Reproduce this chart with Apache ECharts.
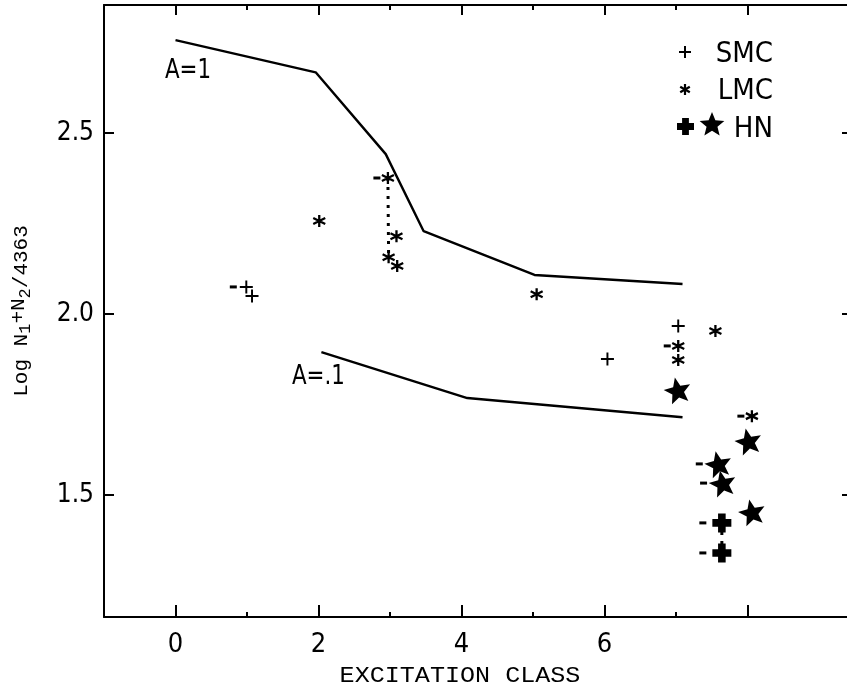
<!DOCTYPE html>
<html><head><meta charset="utf-8">
<script src="https://cdn.jsdelivr.net/npm/echarts@6/dist/echarts.min.js"></script>
<style>html,body{margin:0;padding:0;background:#fff}#c{width:847px;height:686px}</style>
</head><body><div id="c"></div>
<script>
// ---- data ----
const xMajorTicks = [0, 2, 4, 6, 8];
const xMinorTicks = [1, 3, 5, 7];
const xTickLabels = [0, 2, 4, 6];
const yTicks = [1.5, 2.0, 2.5];
const lineA1 = [[0, 2.757], [1.96, 2.668], [2.94, 2.442], [3.47, 2.229], [5.02, 2.108], [7.09, 2.083]];
const lineA01 = [[2.04, 1.895], [4.08, 1.768], [7.09, 1.715]];
// [x, y, limitFlag]
const smc = [[0.99, 2.075, 1], [1.07, 2.05, 0], [6.04, 1.876, 0], [7.03, 1.967, 0]];
const lmc = [[2.01, 2.257, 0], [2.97, 2.376, 1], [3.09, 2.215, 0], [2.98, 2.157, 0], [3.10, 2.133, 0],
             [5.05, 2.055, 0], [7.03, 1.912, 1], [7.03, 1.873, 0], [7.55, 1.953, 0], [8.06, 1.718, 1]];
const hnStar = [[7.02, 1.79, 0], [8.01, 1.649, 0], [7.59, 1.586, 1], [7.65, 1.533, 1], [8.06, 1.453, 0]];
const hnPlus = [[7.64, 1.423, 1], [7.64, 1.34, 1]];
const lmcLink = [[2.97, 2.376], [2.98, 2.157]];
const hnLink = [[7.64, 1.423], [7.64, 1.34]];

// ---- styles ----
const NARROW = "'DejaVu Sans Condensed','Liberation Sans Narrow','Roboto',sans-serif";
const MONO = "'Liberation Mono','DejaVu Sans Mono',monospace";
const THIN_PLUS = 'path://M0,5.1H5.1V0H6.9V5.1H12V6.9H6.9V12H5.1V6.9H0Z';
const ASTER = 'path://M5,0L5,10M0.67,2.5L9.33,7.5M0.67,7.5L9.33,2.5';
const STAR_PTS = [[50,0],[62.93,32.2],[97.55,34.55],[70.92,56.8],[79.39,90.45],[50,72],[20.61,90.45],[29.08,56.8],[2.45,34.55],[37.07,32.2]];
const STAR = 'path://M' + STAR_PTS.map(p => p.join(',')).join('L') + 'Z';
const BPLUS_PTS = [[3,0],[7,0],[7,3],[10,3],[10,7],[7,7],[7,10],[3,10],[3,7],[0,7],[0,3],[3,3]];
const BOLD_PLUS = 'path://M' + BPLUS_PTS.map(p => p.join(',')).join('L') + 'Z';

function pts(arr) { return arr.map(p => [p[0], p[1]]); }
function dashes(arr, off) {
  return arr.filter(p => p[2]).map(p => ({ value: [p[0], p[1]], symbolOffset: [off, 0] }));
}
function place(ptsArr, x0, y0, s) { return ptsArr.map(p => [x0 + p[0] * s, y0 + p[1] * s]); }

const xMin = -1, xMax = 9.39, yMin = 1.163, yMax = 2.854;
const axisBase = (pos, ticks, len, showLine) => ({
  type: 'value', position: pos, min: xMin, max: xMax,
  axisLine: { show: showLine, onZero: false, lineStyle: { color: '#000', width: 2 } },
  axisTick: { show: true, inside: true, length: len, customValues: ticks, lineStyle: { color: '#000', width: 2 } },
  axisLabel: { show: false }, splitLine: { show: false }
});

const xAxes = [
  Object.assign(axisBase('bottom', xMajorTicks, 12, true), {
    axisLabel: { show: true, customValues: xTickLabels, margin: 14, color: '#000', fontFamily: NARROW, fontSize: 27 }
  }),
  axisBase('bottom', xMinorTicks, 5, false),
  axisBase('top', xMajorTicks, 10, true),
  axisBase('top', xMinorTicks, 5, false)
];
const yAxes = [
  { type: 'value', position: 'left', min: yMin, max: yMax,
    axisLine: { show: true, onZero: false, lineStyle: { color: '#000', width: 2 } },
    axisTick: { show: true, inside: true, length: 10, customValues: yTicks, lineStyle: { color: '#000', width: 2 } },
    axisLabel: { show: true, customValues: yTicks, margin: 10, color: '#000', fontFamily: NARROW, fontSize: 26,
      formatter: v => v.toFixed(1) },
    splitLine: { show: false } },
  { type: 'value', position: 'right', min: yMin, max: yMax,
    axisLine: { show: false, onZero: false, lineStyle: { color: '#000', width: 2 } },
    axisTick: { show: true, inside: true, length: 5, customValues: yTicks, lineStyle: { color: '#000', width: 2 } },
    axisLabel: { show: false }, splitLine: { show: false } }
];

const black = { color: '#000', opacity: 1 };
const series = [
  { type: 'line', data: lineA1, symbol: 'none', lineStyle: { color: '#000', width: 2.4 }, z: 2, silent: true },
  { type: 'line', data: lineA01, symbol: 'none', lineStyle: { color: '#000', width: 2.4 }, z: 2, silent: true },
  { type: 'line', data: lmcLink, symbol: 'none', lineStyle: { color: '#000', width: 3, type: [3, 6] }, z: 2 },
  { type: 'line', data: hnLink, symbol: 'none', lineStyle: { color: '#000', width: 3, type: [3, 6] }, z: 2 },
  { type: 'scatter', name: 'SMC', data: pts(smc), symbol: THIN_PLUS, symbolSize: 13, itemStyle: black, z: 3 },
  { type: 'scatter', name: 'LMC', data: pts(lmc), symbol: ASTER, symbolSize: 12,
    itemStyle: { color: 'rgba(0,0,0,0)', borderColor: '#000', borderWidth: 2.3, opacity: 1 }, z: 3 },
  { type: 'scatter', name: 'HN', data: pts(hnStar), symbol: STAR, symbolSize: 27, symbolKeepAspect: true,
    symbolRotate: 12, itemStyle: black, z: 3 },
  { type: 'scatter', name: 'HN+', data: pts(hnPlus), symbol: BOLD_PLUS, symbolSize: 19, itemStyle: black, z: 4 },
  { type: 'scatter', name: 'limits', symbol: 'rect', symbolSize: [7, 3], itemStyle: black, z: 3,
    data: [].concat(dashes(smc, -13), dashes(lmc, -11), dashes(hnStar, -19), dashes(hnPlus, -19)) }
];

const LS = { stroke: '#000', lineWidth: 2 };
const graphic = [
  { type: 'text', left: 165, top: 57, scaleX: 0.88, style: { text: 'A=1', font: "27px " + NARROW, fill: '#000' } },
  { type: 'text', left: 292, top: 363, scaleX: 0.88, style: { text: 'A=.1', font: "27px " + NARROW, fill: '#000' } },
  { type: 'text', x: 460, y: 676, scaleX: 1.14, style: { text: 'EXCITATION CLASS', font: "22px " + MONO, fill: '#000',
      align: 'center', verticalAlign: 'middle' } },
  { type: 'text', x: 21, y: 311, rotation: Math.PI / 2,
    style: { text: 'Log N{s|1}{p|+N}{s|2}/4363', font: "21px " + MONO, fill: '#000', align: 'center', verticalAlign: 'middle',
      rich: { s: { font: "17px " + MONO, fill: '#000', padding: [8, 0, 0, 0] }, p: { font: "21px " + MONO, fill: '#000', padding: [0, 0, 6, 0] } } } },
  // legend symbols
  { type: 'line', shape: { x1: 679, y1: 52, x2: 691, y2: 52 }, style: LS },
  { type: 'line', shape: { x1: 685, y1: 46, x2: 685, y2: 58 }, style: LS },
  { type: 'line', shape: { x1: 685, y1: 84, x2: 685, y2: 95 }, style: { stroke: '#000', lineWidth: 2.2 } },
  { type: 'line', shape: { x1: 680.2, y1: 86.7, x2: 689.8, y2: 92.3 }, style: { stroke: '#000', lineWidth: 2.2 } },
  { type: 'line', shape: { x1: 680.2, y1: 92.3, x2: 689.8, y2: 86.7 }, style: { stroke: '#000', lineWidth: 2.2 } },
  { type: 'polygon', shape: { points: place(BPLUS_PTS, 677, 118, 1.7) }, style: { fill: '#000' } },
  { type: 'polygon', shape: { points: place(STAR_PTS, 699, 112, 0.26) }, style: { fill: '#000' } },
  { type: 'text', right: 847 - 773, top: 40, style: { text: 'SMC', font: "29px " + NARROW, fill: '#000' } },
  { type: 'text', right: 847 - 773, top: 77, style: { text: 'LMC', font: "29px " + NARROW, fill: '#000' } },
  { type: 'text', right: 847 - 773, top: 115, style: { text: 'HN', font: "29px " + NARROW, fill: '#000' } }
];

const chart = echarts.init(document.getElementById('c'), null, { renderer: 'canvas' });
chart.setOption({
  animation: false,
  backgroundColor: '#fff',
  grid: { left: 104, right: 0, top: 5, bottom: 69, containLabel: false },
  xAxis: xAxes,
  yAxis: yAxes,
  series: series.map(s => Object.assign({ xAxisIndex: 0, yAxisIndex: 0 }, s)),
  graphic: graphic
});
</script></body></html>
